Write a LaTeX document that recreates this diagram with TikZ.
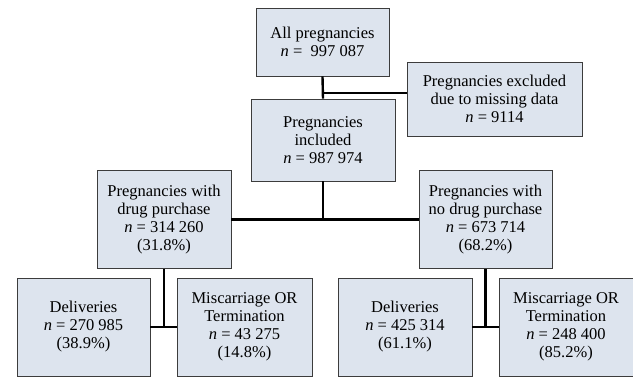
\documentclass[tikz,border=0pt]{standalone}
\usepackage{fontspec}
\setmainfont{Liberation Serif}
\usetikzlibrary{calc}
\definecolor{boxfill}{RGB}{221,228,238}
\definecolor{boxline}{RGB}{60,60,60}
\newcommand{\nn}{\textit{n}}

\begin{document}
\begin{tikzpicture}[x=1pt,y=-1pt,
  box/.style={draw=boxline,line width=0.9pt,fill=boxfill,align=center,inner sep=0pt,
    font=\fontsize{16.5}{18}\selectfont},
  link/.style={line width=2.4pt,black}]
  \useasboundingbox (0,0) rectangle (633,377);
  % boxes
  \node[box,minimum width=133,minimum height=68] (All) at (322.5,42)
    {All pregnancies\\ \nn{} = \ 997~087};
  \node[box,minimum width=175,minimum height=74] (Excl) at (494.5,99)
    {Pregnancies excluded\\ due to missing data\\ \nn{} = 9114};
  \node[box,minimum width=144,minimum height=82] (Incl) at (323,140)
    {Pregnancies\\ included\\ \nn{} = 987~974};
  \node[box,minimum width=134,minimum height=98] (Drug) at (164,219.5)
    {Pregnancies with\\ drug purchase\\ \nn{} = 314~260\\ (31.8\%)};
  \node[box,minimum width=133,minimum height=98] (NoDrug) at (485.5,219.5)
    {Pregnancies with\\ no drug purchase\\ \nn{} = 673~714\\ (68.2\%)};
  \node[box,minimum width=133,minimum height=98] (DelA) at (83.5,327)
    {Deliveries\\ \nn{} = 270~985\\ (38.9\%)};
  \node[box,minimum width=135,minimum height=98] (MisA) at (244.5,327)
    {Miscarriage OR\\ Termination\\ \nn{} = 43~275\\ (14.8\%)};
  \node[box,minimum width=134,minimum height=98] (DelB) at (405,327)
    {Deliveries\\ \nn{} = 425~314\\ (61.1\%)};
  \node[box,minimum width=134,minimum height=98] (MisB) at (566,327)
    {Miscarriage OR\\ Termination\\ \nn{} = 248~400\\ (85.2\%)};
  % connectors
  \coordinate (J) at (323,93);
  \draw[link] (All.south) -- (Incl.north);
  \draw[link] (J) -- (J -| Excl.west);
  \draw[link] (Incl.south) -- (Incl.south |- Drug.east);
  \draw[link] (Drug.east) -- (NoDrug.west);
  \draw[link] (Drug.south) -- (Drug.south |- DelA.east);
  \draw[link] (DelA.east) -- (MisA.west);
  \draw[link] (NoDrug.south) -- (NoDrug.south |- DelB.east);
  \draw[link] (DelB.east) -- (MisB.west);
\end{tikzpicture}
\end{document}
